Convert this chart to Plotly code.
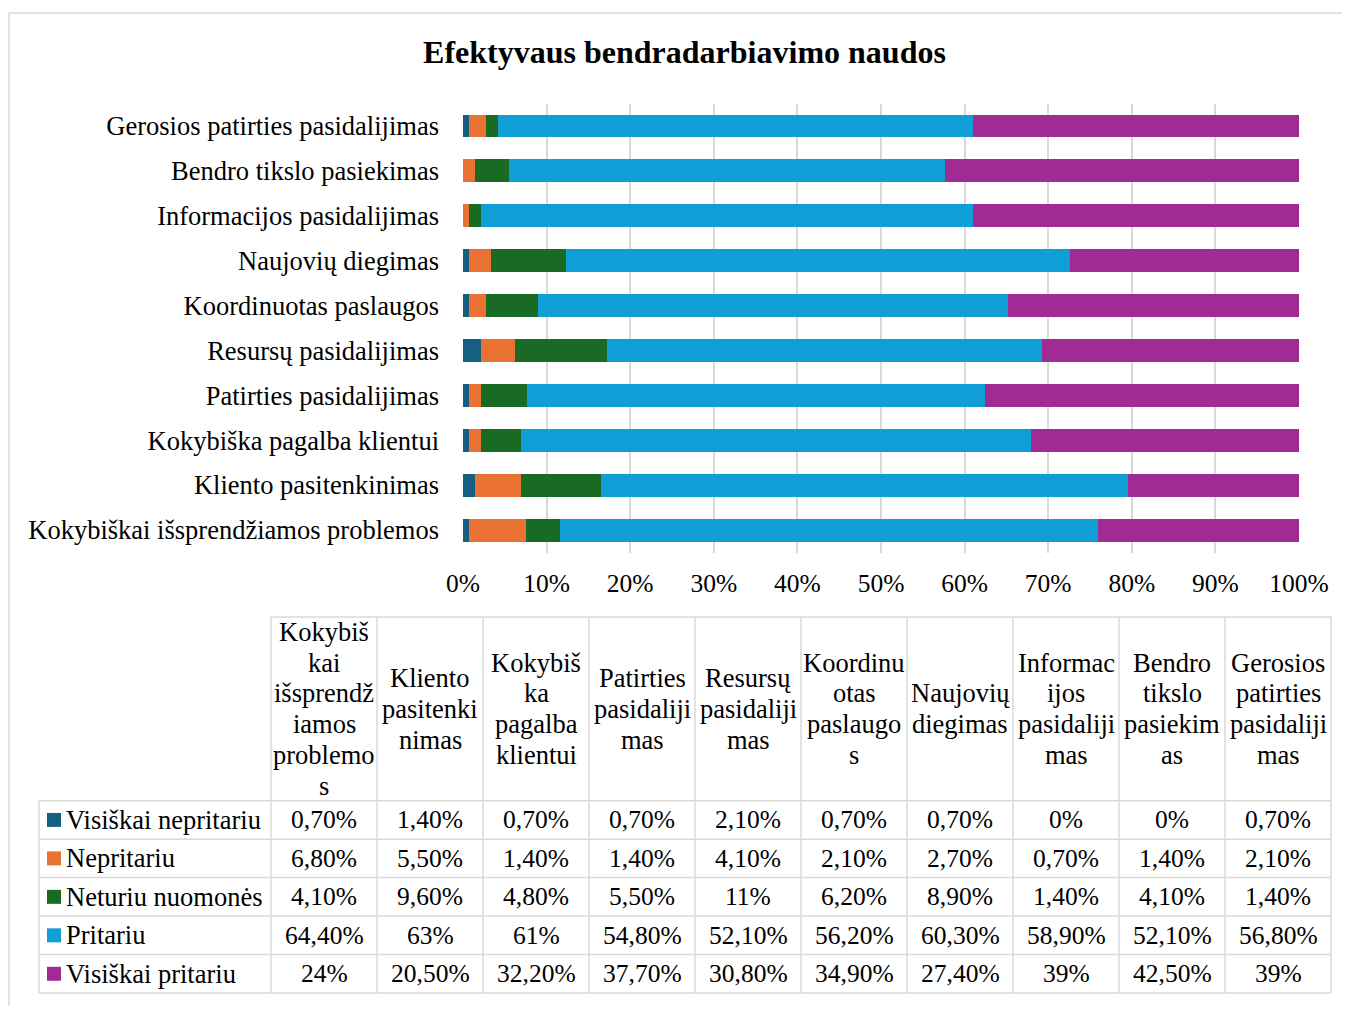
import plotly.graph_objects as go

W, H = 1350, 1014
OFF = 8  # page body margin
FW, FH = W - 2 * OFF, H - 2 * OFF

categories = [
    "Kokybiškai išsprendžiamos problemos",
    "Kliento pasitenkinimas",
    "Kokybiška pagalba klientui",
    "Patirties pasidalijimas",
    "Resursų pasidalijimas",
    "Koordinuotas paslaugos",
    "Naujovių diegimas",
    "Informacijos pasidalijimas",
    "Bendro tikslo pasiekimas",
    "Gerosios patirties pasidalijimas",
]
table_headers = [
    "Kokybiš<br>kai<br>išsprendž<br>iamos<br>problemo<br>s",
    "Kliento<br>pasitenki<br>nimas",
    "Kokybiš<br>ka<br>pagalba<br>klientui",
    "Patirties<br>pasidaliji<br>mas",
    "Resursų<br>pasidaliji<br>mas",
    "Koordinu<br>otas<br>paslaugo<br>s",
    "Naujovių<br>diegimas",
    "Informac<br>ijos<br>pasidaliji<br>mas",
    "Bendro<br>tikslo<br>pasiekim<br>as",
    "Gerosios<br>patirties<br>pasidaliji<br>mas",
]
series_names = ["Visiškai nepritariu", "Nepritariu", "Neturiu nuomonės", "Pritariu", "Visiškai pritariu"]
visiskai_nepritariu = [0.7, 1.4, 0.7, 0.7, 2.1, 0.7, 0.7, 0, 0, 0.7]
nepritariu = [6.8, 5.5, 1.4, 1.4, 4.1, 2.1, 2.7, 0.7, 1.4, 2.1]
neturiu_nuomones = [4.1, 9.6, 4.8, 5.5, 11, 6.2, 8.9, 1.4, 4.1, 1.4]
pritariu = [64.4, 63, 61, 54.8, 52.1, 56.2, 60.3, 58.9, 52.1, 56.8]
visiskai_pritariu = [24, 20.5, 32.2, 37.7, 30.8, 34.9, 27.4, 39, 42.5, 39]
series_values = [visiskai_nepritariu, nepritariu, neturiu_nuomones, pritariu, visiskai_pritariu]
colors = ["#156082", "#E97132", "#196B24", "#0F9ED5", "#A02B93"]
x_ticks = [0, 10, 20, 30, 40, 50, 60, 70, 80, 90, 100]

FONT = "Liberation Serif, Times New Roman, serif"
GRID = "#D9D9D9"
FS_LABEL = 26.5
FS_VAL = 25.5


def px(x):
    return (x - OFF) / FW


def py(y):
    return 1 - (y - OFF) / FH


def fmt(v):
    if float(v).is_integer():
        return f"{int(v)}%"
    return f"{v:.2f}".replace(".", ",") + "%"


fig = go.Figure()
for name, vals, col in zip(series_names, series_values, colors):
    fig.add_trace(go.Bar(
        y=categories, x=vals, name=name, orientation="h",
        marker=dict(color=col, line=dict(width=0)),
        showlegend=False, hoverinfo="x+y+name",
    ))

shapes = []
annotations = []

# outer chart frame (top and left edges visible)
shapes.append(dict(type="line", xref="paper", yref="paper", x0=px(9), x1=px(W + 20), y0=py(13), y1=py(13),
                   line=dict(color=GRID, width=1.5)))
shapes.append(dict(type="line", xref="paper", yref="paper", x0=px(9), x1=px(9), y0=py(13), y1=py(H + 20),
                   line=dict(color=GRID, width=1.5)))

# table geometry
tab_left = 39
col0 = 271
col_w = 106
head_top = 617
head_bot = 800.7
row_h = 38.46
line_sp = 30.8
ncol = len(categories)
nrow = len(series_names)
tab_right = col0 + ncol * col_w
tab_bot = head_bot + nrow * row_h

for i in range(ncol + 1):
    x = col0 + i * col_w
    shapes.append(dict(type="line", xref="paper", yref="paper", x0=px(x), x1=px(x), y0=py(head_top), y1=py(tab_bot),
                       line=dict(color=GRID, width=1.5)))
shapes.append(dict(type="line", xref="paper", yref="paper", x0=px(tab_left), x1=px(tab_left), y0=py(head_bot), y1=py(tab_bot),
                   line=dict(color=GRID, width=1.5)))
shapes.append(dict(type="line", xref="paper", yref="paper", x0=px(col0), x1=px(tab_right), y0=py(head_top), y1=py(head_top),
                   line=dict(color=GRID, width=1.5)))
for j in range(nrow + 1):
    y = head_bot + j * row_h
    shapes.append(dict(type="line", xref="paper", yref="paper", x0=px(tab_left), x1=px(tab_right), y0=py(y), y1=py(y),
                       line=dict(color=GRID, width=1.5)))

# headers (each wrapped line placed separately for Word-like line spacing)
head_mid = (head_top + head_bot) / 2
for i, h in enumerate(table_headers):
    cx = col0 + (i + 0.5) * col_w
    lines = h.split("<br>")
    n = len(lines)
    for k, ln in enumerate(lines):
        cy = head_mid + (k - (n - 1) / 2) * line_sp
        annotations.append(dict(xref="paper", yref="paper", x=px(cx), y=py(cy),
                                text=ln, showarrow=False, xanchor="center", yanchor="middle",
                                font=dict(family=FONT, size=FS_LABEL, color="#000")))

# rows
for j, (name, vals, col) in enumerate(zip(series_names, series_values, colors)):
    cy = head_bot + (j + 0.5) * row_h
    shapes.append(dict(type="rect", xref="paper", yref="paper", x0=px(47), x1=px(61), y0=py(cy - 7), y1=py(cy + 7),
                       fillcolor=col, line=dict(width=0)))
    annotations.append(dict(xref="paper", yref="paper", x=px(64), y=py(cy), text=name, showarrow=False,
                            xanchor="left", yanchor="middle", font=dict(family=FONT, size=FS_LABEL, color="#000")))
    for i, v in enumerate(vals):
        cx = col0 + (i + 0.5) * col_w
        annotations.append(dict(xref="paper", yref="paper", x=px(cx), y=py(cy), text=fmt(v), showarrow=False,
                                xanchor="center", yanchor="middle", font=dict(family=FONT, size=FS_VAL, color="#000")))

fig.update_layout(
    width=FW, height=FH, autosize=False,
    margin=dict(l=0, r=0, t=0, b=0, pad=0, autoexpand=False),
    paper_bgcolor="white", plot_bgcolor="white",
    barmode="stack", bargap=0.49,
    title=dict(text="<b>Efektyvaus bendradarbiavimo naudos</b>", x=px(684.5), xanchor="center",
               y=py(52), yanchor="middle", xref="paper", yref="paper", automargin=False,
               font=dict(family=FONT, size=32, color="#000")),
    xaxis=dict(domain=[px(463), px(1299)], range=[0, 100], tickvals=x_ticks, automargin=False,
               ticktext=[f"{t}%" for t in x_ticks], showgrid=True, gridcolor=GRID, gridwidth=1.5,
               zeroline=False, showline=False, ticks="", ticklabelstandoff=13,
               tickfont=dict(family=FONT, size=FS_VAL, color="#000")),
    yaxis=dict(domain=[py(552.5), py(103.5)], range=[-0.5, 9.5], showgrid=False, zeroline=False,
               automargin=False, showline=False, ticks="", ticklabelstandoff=23,
               tickfont=dict(family=FONT, size=FS_LABEL, color="#000")),
    shapes=shapes, annotations=annotations,
)

fig.write_html("out.html")
